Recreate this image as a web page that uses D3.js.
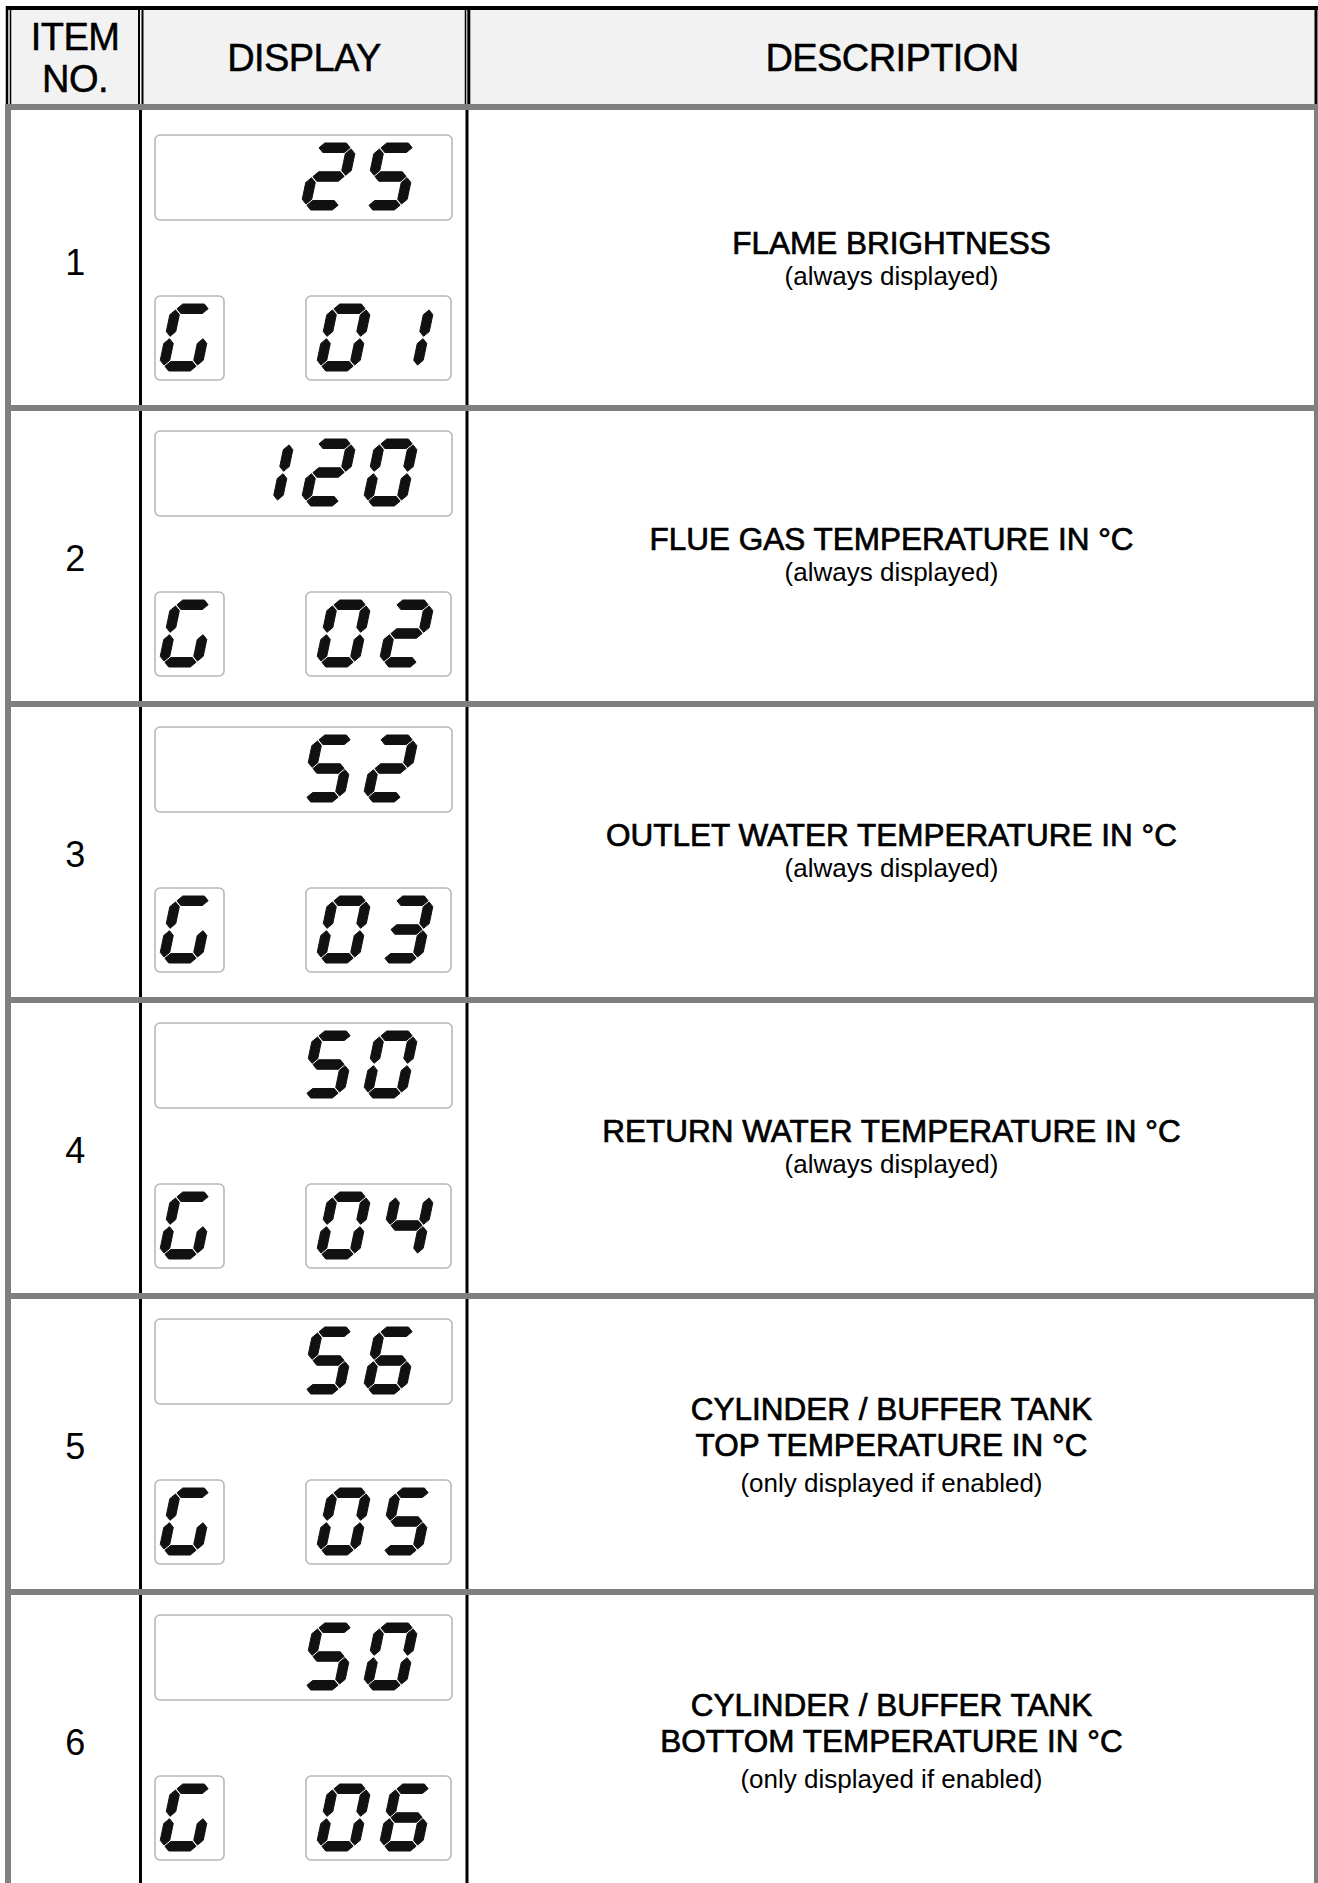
<!DOCTYPE html>
<html>
<head>
<meta charset="utf-8">
<script src="https://cdn.jsdelivr.net/npm/d3@7"></script>
<style>
  body { margin: 0; background: #fff; }
  svg { display: block; font-family: "Liberation Sans", Arial, sans-serif; }
</style>
</head>
<body>
<svg width="1318" height="1883"></svg>
<script>
// table content
var headers = ["ITEM|NO.", "DISPLAY", "DESCRIPTION"]
var itemNos = ["1", "2", "3", "4", "5", "6"]
var readings = ["25", "120", "52", "50", "56", "50"]
var codeLetters = ["G", "G", "G", "G", "G", "G"]
var codeNumbers = ["01", "02", "03", "04", "05", "06"]
var titles = [
  ["FLAME BRIGHTNESS"],
  ["FLUE GAS TEMPERATURE IN °C"],
  ["OUTLET WATER TEMPERATURE IN °C"],
  ["RETURN WATER TEMPERATURE IN °C"],
  ["CYLINDER / BUFFER TANK", "TOP TEMPERATURE IN °C"],
  ["CYLINDER / BUFFER TANK", "BOTTOM TEMPERATURE IN °C"]
]
var notes = [
  "(always displayed)",
  "(always displayed)",
  "(always displayed)",
  "(always displayed)",
  "(only displayed if enabled)",
  "(only displayed if enabled)"
]

// which segments are lit for each glyph
var segMap = {"0": "abcdef", "1": "bc", "2": "abdeg", "3": "abcdg", "4": "bcfg",
  "5": "acdfg", "6": "acdefg", "7": "abc", "8": "abcdefg", "9": "abcdfg", "G": "acdef"}

var DW = 43, DH = 67, T = 9.5, GAP = 1.2, SLANT = 0.21

function segPoints(s) {
  var hw = T / 2
  var xl = hw, xr = DW - hw, yt = hw, ym = DH / 2, yb = DH - hw
  function hor(y, x1, x2) {
    return [[x1 + GAP, y], [x1 + GAP + hw, y - hw], [x2 - GAP - hw, y - hw],
      [x2 - GAP, y], [x2 - GAP - hw, y + hw], [x1 + GAP + hw, y + hw]]
  }
  function ver(x, y1, y2) {
    return [[x, y1 + GAP], [x + hw, y1 + GAP + hw], [x + hw, y2 - GAP - hw],
      [x, y2 - GAP], [x - hw, y2 - GAP - hw], [x - hw, y1 + GAP + hw]]
  }
  var pts = {
    a: hor(yt, xl, xr), g: hor(ym, xl, xr), d: hor(yb, xl, xr),
    f: ver(xl, yt, ym), b: ver(xr, yt, ym), e: ver(xl, ym, yb), c: ver(xr, ym, yb)
  }[s]
  // lean the digit to the right
  return pts.map(p => [p[0] + (DH - p[1]) * SLANT, p[1]])
}

function drawDigits(g, text, xScale, y0) {
  var chars = text.split("")
  chars.forEach(function(ch, i) {
    var dg = g.append("g").attr("transform", "translate(" + xScale(i) + "," + y0 + ")")
    dg.selectAll("polygon").data(segMap[ch].split("")).enter().append("polygon")
      .attr("points", d => segPoints(d).map(p => p.join(",")).join(" "))
      .attr("fill", "#111").attr("stroke", "#111").attr("stroke-width", 1)
      .attr("stroke-linejoin", "round")
  })
}

function displayBox(g, x, y, w, h) {
  g.append("rect").attr("x", x).attr("y", y).attr("width", w).attr("height", h)
    .attr("rx", 5).attr("fill", "#fff").attr("stroke", "#b8b8b8").attr("stroke-width", 1.6)
}

function main() {
  var svg = d3.select("svg")
  var W = 1318
  var cols = [8, 140.5, 467, 1316]
  var headTop = 8, headBottom = 107

  var yRow = d3.scaleBand().domain(itemNos).range([112, 1888])
  var step = yRow.step()

  // header
  svg.append("rect").attr("x", cols[0]).attr("y", headTop).attr("width", cols[3] - cols[0])
    .attr("height", headBottom - headTop).attr("fill", "#f2f2f2")

  var headX = [75, 304, 892]
  headers.forEach(function(h, i) {
    var lines = h.split("|")
    var t = svg.append("text").attr("text-anchor", "middle").attr("font-size", 38)
      .attr("letter-spacing", -0.6)
      .attr("fill", "#000").attr("stroke", "#000").attr("stroke-width", 0.5)
    if (lines.length == 1) {
      t.append("tspan").attr("x", headX[i]).attr("y", 71).text(lines[0])
    } else {
      t.append("tspan").attr("x", headX[i]).attr("y", 50).text(lines[0])
      t.append("tspan").attr("x", headX[i]).attr("y", 92).text(lines[1])
    }
  })

  // header rules (double lines)
  svg.append("line").attr("x1", 6).attr("x2", W).attr("y1", 8).attr("y2", 8)
    .attr("stroke", "#000").attr("stroke-width", 4)
  var headRules = [[7, 2.5], [10.5, 1.5], [139, 2], [142.5, 2], [465.5, 1.5], [468.8, 3], [1316, 3]]
  headRules.forEach(function(r) {
    svg.append("line").attr("x1", r[0]).attr("x2", r[0]).attr("y1", 6).attr("y2", headBottom)
      .attr("stroke", "#000").attr("stroke-width", r[1])
  })

  // body column dividers
  svg.selectAll(".coldiv").data([cols[1], cols[2]]).enter().append("line")
    .attr("x1", d => d).attr("x2", d => d).attr("y1", headBottom).attr("y2", 1883)
    .attr("stroke", "#000").attr("stroke-width", 3)

  // rows
  itemNos.forEach(function(no, i) {
    var top = yRow(no)
    var cy = top + step / 2
    var g = svg.append("g")

    g.append("text").attr("x", (cols[0] + cols[1]) / 2 + 1).attr("y", cy + 15)
      .attr("text-anchor", "middle").attr("font-size", 36).attr("fill", "#000").text(no)

    // main reading, right aligned
    var bx = 155, bw = 297, by = top + 23
    displayBox(g, bx, by, bw, 85)
    var n = readings[i].length
    var xr = d3.scaleLinear().domain([n - 1, 0]).range([bx + bw - 90, bx + bw - 90 - 62 * (n - 1)])
    if (n == 1) xr = () => bx + bw - 90
    drawDigits(g, readings[i], xr, by + 8)

    // code letter
    var sy = top + 184
    displayBox(g, 155, sy, 69, 84)
    drawDigits(g, codeLetters[i], d3.scaleLinear().domain([0, 1]).range([158, 220]), sy + 8)

    // code number
    displayBox(g, 306, sy, 145, 84)
    drawDigits(g, codeNumbers[i], d3.scaleLinear().domain([0, 1]).range([315, 378]), sy + 8)

    // description
    var tl = titles[i]
    var y0 = cy - 6 - (tl.length - 1) * 18
    var cx = (cols[2] + cols[3]) / 2
    tl.forEach(function(line, k) {
      g.append("text").attr("x", cx).attr("y", y0 + k * 36).attr("text-anchor", "middle")
        .attr("font-size", 31.5).attr("fill", "#000").attr("stroke", "#000").attr("stroke-width", 0.7)
        .text(line)
    })
    g.append("text").attr("x", cx).attr("y", y0 + (tl.length - 1) * 36 + 31 + (tl.length - 1) * 5)
      .attr("text-anchor", "middle").attr("font-size", 26).attr("fill", "#000").text(notes[i])
  })

  // gray row separators and outer body borders
  var seps = [headBottom].concat(itemNos.slice(1).map(d => yRow(d)))
  svg.selectAll(".sep").data(seps).enter().append("line")
    .attr("x1", 5).attr("x2", W).attr("y1", d => d).attr("y2", d => d)
    .attr("stroke", "#808080").attr("stroke-width", 6)
  svg.append("line").attr("x1", 8).attr("x2", 8).attr("y1", headBottom - 3).attr("y2", 1883)
    .attr("stroke", "#808080").attr("stroke-width", 6)
  svg.append("line").attr("x1", 1316).attr("x2", 1316).attr("y1", headBottom - 3).attr("y2", 1883)
    .attr("stroke", "#808080").attr("stroke-width", 4)
}

window.onload = function() {
  main()
};
</script>
</body>
</html>
